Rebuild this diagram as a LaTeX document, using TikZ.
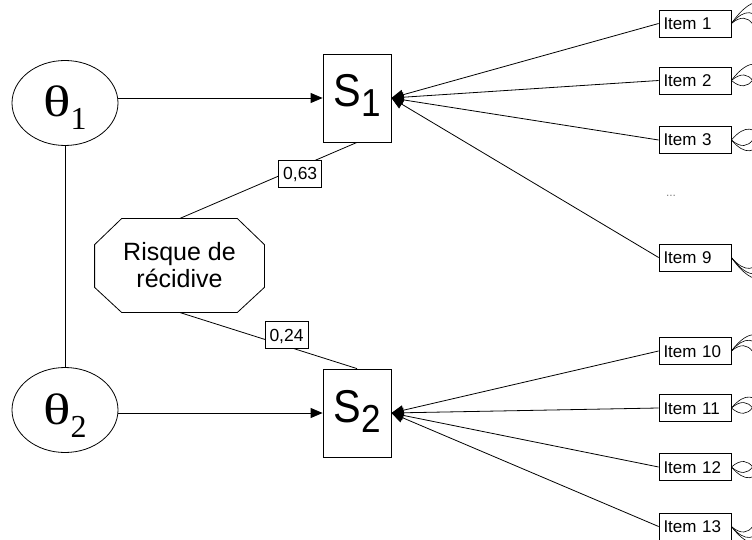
\documentclass[tikz,border=0pt]{standalone}
\usepackage{fontspec}
\setmainfont{Liberation Sans}
\newfontfamily\sfont[FakeStretch=0.9]{Liberation Sans}
\newfontfamily\thfont[FakeStretch=1.3]{Liberation Serif}
\newfontfamily\serdig{Liberation Serif}
\usetikzlibrary{arrows.meta,shapes.geometric,calc}
\begin{document}
\begin{tikzpicture}[x=1pt,y=-1pt,line width=0.8pt,
  latent/.style={draw,ellipse,minimum width=106pt,minimum height=85pt,inner sep=0pt,text height=28pt,text depth=0pt},
  scorebox/.style={draw,rectangle,minimum width=68pt,minimum height=88pt,inner sep=0pt,text height=18pt,text depth=0pt},
  itembox/.style={draw,rectangle,minimum width=72pt,minimum height=27pt,inner xsep=4.5pt,inner ysep=0pt,text width=63pt,align=left,text height=12pt,text depth=0pt,font=\fontsize{17}{20}\selectfont},
  coef/.style={draw,fill=white,minimum width=43pt,minimum height=27pt,inner sep=0pt,text height=12pt,text depth=0pt,font=\fontsize{17.5}{20}\selectfont},
  arr/.style={-{Triangle[length=12pt,width=10pt]}},
  resid/.style={line width=0.6pt}]
\path[use as bounding box] (0,0) rectangle (752,540);
\clip (0,0) rectangle (752,540);

% latent variables
\node[latent] (t1) at (65,103) {\thfont\fontsize{44}{44}\selectfont θ\raisebox{-13pt}{\serdig\fontsize{32}{32}\selectfont 1}};
\node[latent] (t2) at (65,410) {\thfont\fontsize{44}{44}\selectfont θ\raisebox{-13pt}{\serdig\fontsize{32}{32}\selectfont 2}};

% scores
\node[scorebox] (S1) at (357,98) {\sfont\fontsize{46}{46}\selectfont S\raisebox{-10pt}{\fontsize{39}{39}\selectfont 1}};
\node[scorebox] (S2) at (357,413) {\sfont\fontsize{46}{46}\selectfont S\raisebox{-10pt}{\fontsize{39}{39}\selectfont 2}};

% risk octagon
\node[minimum width=169pt,minimum height=93pt,inner sep=0pt,align=center,font=\fontsize{25}{27}\selectfont] (risk) at (179.5,265.5) {Risque de\\récidive};
\draw ([xshift=27pt]risk.north west) -- ([xshift=-27pt]risk.north east) -- ([yshift=-26pt]risk.north east)
  -- ([yshift=25pt]risk.south east) -- ([xshift=-27pt]risk.south east) -- ([xshift=27pt]risk.south west)
  -- ([yshift=25pt]risk.south west) -- ([yshift=-26pt]risk.north west) -- cycle;

% items
\node[itembox] (it1) at (695,23.5) {Item 1};
\node[itembox] (it2) at (695,80.5) {Item 2};
\node[itembox] (it3) at (695,140) {Item 3};
\node[text=gray,font=\fontsize{12}{12}\selectfont] (dots) at (671,196) {...};
\node[itembox] (it9) at (695,257.5) {Item 9};
\node[itembox] (it10) at (695,351) {Item 10};
\node[itembox] (it11) at (695,408) {Item 11};
\node[itembox] (it12) at (695,467) {Item 12};
\node[itembox] (it13) at (695,526.5) {Item 13};

% connectors
\draw (t1) -- (t2);
\draw[arr] (S1.west -| t1.east) -- (S1.west);
\draw[arr] (S2.west -| t2.east) -- (S2.west);
\draw (risk.north) -- node[coef,pos=0.68,yshift=-7pt] (c1) {0,63} (S1.south);
\draw (risk.south) -- node[coef,pos=0.603,yshift=11pt] (c2) {0,24} (S2.north);
\foreach \i in {1,2,3,9} \draw[arr] (it\i.west) -- (S1.east);
\foreach \i in {10,11,12,13} \draw[arr] (it\i.west) -- (S2.east);

% residual covariances
\foreach \a/\b in {1/2,1/3,1/9,2/3,2/9,3/9,10/11,10/12,10/13,11/12,11/13,12/13}
  \draw[resid] let \p1=(it\a.east), \p2=(it\b.east), \n1={\y1-\y2} in
    (it\a.east) .. controls +({0.3*\n1+20},{0.55*\n1}) and +({0.3*\n1+20},{-0.55*\n1}) .. (it\b.east);
\end{tikzpicture}
\end{document}
